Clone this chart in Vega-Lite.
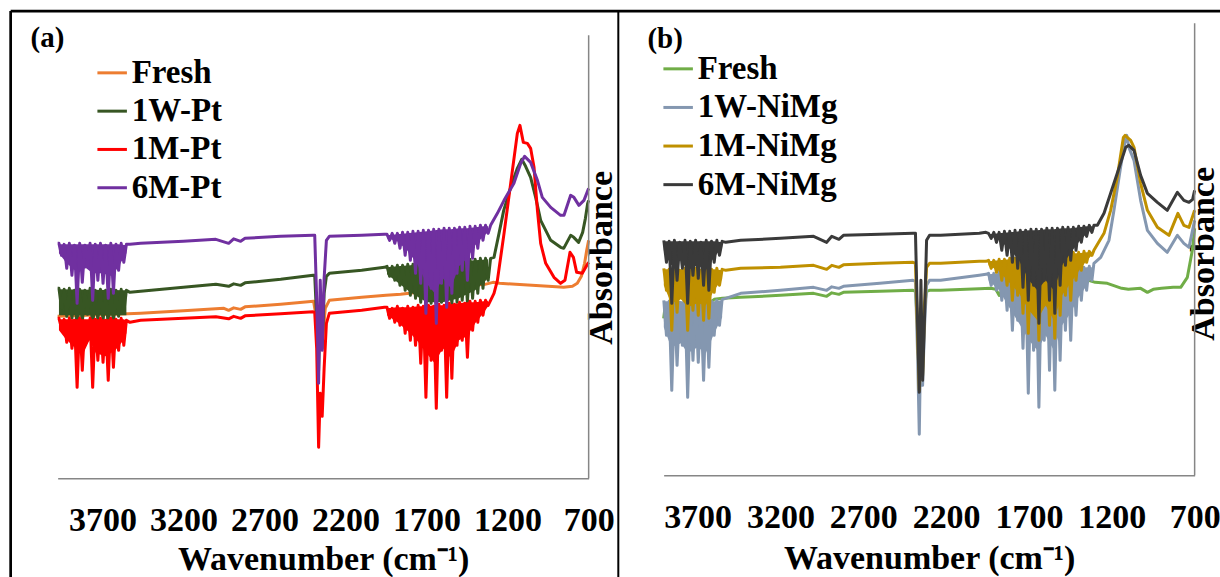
{
"$schema": "https://vega.github.io/schema/vega-lite/v6.json",
"background": "white",
"padding": {"left": 8.65, "top": 9.35, "right": -1.35, "bottom": -1.4},
"bounds": "flush",
"spacing": 75,
"resolve": {"scale": {"color": "independent", "x": "independent", "y": "independent"}, "legend": {"color": "independent"}},
"config": {
  "view": {"stroke": null},
  "axis": {"labelFont": "Liberation Serif", "labelFontSize": 34, "labelFontWeight": "bold", "labelColor": "#000000", "titleFont": "Liberation Serif", "titleFontSize": 34, "titleFontWeight": "bold", "titleColor": "#000000"},
  "legend": {"labelFont": "Liberation Serif", "labelFontSize": 33, "labelFontWeight": "bold", "labelColor": "#000000", "labelLimit": 400, "symbolType": "stroke", "symbolStrokeWidth": 3, "padding": 0}
},
"datasets": {
"aFresh": [{"x":3976,"y":1.62},{"x":3700,"y":1.635},{"x":3464,"y":1.65},{"x":3200,"y":1.675},{"x":2950,"y":1.7},{"x":2921,"y":1.68},{"x":2890,"y":1.705},{"x":2847,"y":1.69},{"x":2820,"y":1.715},{"x":2600,"y":1.74},{"x":2397,"y":1.77},{"x":2380,"y":1.6},{"x":2366,"y":1.3},{"x":2352,"y":1.55},{"x":2340,"y":1.4},{"x":2325,"y":1.7},{"x":2300,"y":1.78},{"x":2100,"y":1.81},{"x":1950,"y":1.83},{"x":1860,"y":1.84},{"x":1700,"y":1.87},{"x":1550,"y":1.9},{"x":1409,"y":1.93},{"x":1340,"y":1.94},{"x":1290,"y":1.96},{"x":1250,"y":1.95},{"x":1150,"y":1.94},{"x":1000,"y":1.925},{"x":900,"y":1.915},{"x":854,"y":1.91},{"x":800,"y":1.92},{"x":770,"y":1.95},{"x":745,"y":2.02},{"x":725,"y":2.15},{"x":712,"y":2.28},{"x":700,"y":2.38}],
"aA1W": [{"r":1,"x":3968,"y":1.89,"y2":1.63},{"r":1,"x":3552,"y":1.88,"y2":1.63},{"r":2,"x":1944,"y":2.11,"y2":2.04},{"r":2,"x":1880,"y":2.12,"y2":1.96},{"r":2,"x":1800,"y":2.13,"y2":1.86},{"r":2,"x":1700,"y":2.15,"y2":1.76},{"r":2,"x":1600,"y":2.16,"y2":1.76},{"r":2,"x":1500,"y":2.17,"y2":1.8},{"r":2,"x":1400,"y":2.18,"y2":1.88},{"r":2,"x":1320,"y":2.19,"y2":2.0}],
"a1W": [{"x":3976,"y":1.9},{"x":3968,"y":1.9},{"x":3952,"y":1.7},{"x":3936,"y":1.89},{"x":3920,"y":1.62},{"x":3904,"y":1.9},{"x":3888,"y":1.6},{"x":3872,"y":1.88},{"x":3856,"y":1.5},{"x":3840,"y":1.89},{"x":3824,"y":1.56},{"x":3808,"y":1.88},{"x":3792,"y":1.64},{"x":3776,"y":1.9},{"x":3760,"y":1.5},{"x":3744,"y":1.88},{"x":3728,"y":1.58},{"x":3712,"y":1.89},{"x":3696,"y":1.57},{"x":3680,"y":1.88},{"x":3664,"y":1.52},{"x":3648,"y":1.89},{"x":3632,"y":1.55},{"x":3616,"y":1.88},{"x":3600,"y":1.62},{"x":3584,"y":1.89},{"x":3568,"y":1.66},{"x":3552,"y":1.88},{"x":3530,"y":1.86},{"x":3464,"y":1.87},{"x":3200,"y":1.91},{"x":3000,"y":1.94},{"x":2921,"y":1.92},{"x":2890,"y":1.945},{"x":2847,"y":1.93},{"x":2820,"y":1.955},{"x":2600,"y":1.99},{"x":2400,"y":2.03},{"x":2390,"y":2.03},{"x":2378,"y":1.6},{"x":2366,"y":1.08},{"x":2356,"y":1.7},{"x":2344,"y":1.3},{"x":2332,"y":1.85},{"x":2318,"y":2.02},{"x":2300,"y":2.05},{"x":2100,"y":2.08},{"x":1960,"y":2.11},{"x":1944,"y":2.12},{"x":1928,"y":2.02},{"x":1912,"y":2.12},{"x":1896,"y":1.98},{"x":1880,"y":2.13},{"x":1864,"y":1.93},{"x":1848,"y":2.13},{"x":1832,"y":1.88},{"x":1816,"y":2.14},{"x":1800,"y":1.83},{"x":1784,"y":2.14},{"x":1768,"y":1.8},{"x":1752,"y":2.15},{"x":1736,"y":1.76},{"x":1720,"y":2.15},{"x":1704,"y":1.72},{"x":1688,"y":2.16},{"x":1672,"y":1.75},{"x":1656,"y":2.16},{"x":1640,"y":1.72},{"x":1624,"y":2.17},{"x":1608,"y":1.76},{"x":1592,"y":2.17},{"x":1576,"y":1.72},{"x":1560,"y":2.17},{"x":1544,"y":1.74},{"x":1528,"y":2.18},{"x":1512,"y":1.76},{"x":1496,"y":2.18},{"x":1480,"y":1.78},{"x":1464,"y":2.19},{"x":1448,"y":1.76},{"x":1432,"y":2.19},{"x":1416,"y":1.8},{"x":1400,"y":2.19},{"x":1384,"y":1.85},{"x":1368,"y":2.2},{"x":1352,"y":1.9},{"x":1336,"y":2.2},{"x":1320,"y":1.98},{"x":1305,"y":2.2},{"x":1284,"y":2.21},{"x":1253,"y":2.45},{"x":1224,"y":2.68},{"x":1181,"y":2.91},{"x":1140,"y":3.1},{"x":1113,"y":3.19},{"x":1089,"y":3.12},{"x":1058,"y":3.01},{"x":1027,"y":2.81},{"x":996,"y":2.58},{"x":934,"y":2.38},{"x":873,"y":2.31},{"x":854,"y":2.3},{"x":811,"y":2.43},{"x":792,"y":2.41},{"x":762,"y":2.36},{"x":737,"y":2.46},{"x":720,"y":2.6},{"x":706,"y":2.75},{"x":700,"y":2.78}],
"aA1M": [{"r":1,"x":3968,"y":1.59,"y2":1.48},{"r":1,"x":3930,"y":1.59,"y2":1.4},{"r":1,"x":3880,"y":1.59,"y2":1.32},{"r":1,"x":3820,"y":1.59,"y2":1.24},{"r":1,"x":3780,"y":1.59,"y2":1.38},{"r":1,"x":3740,"y":1.59,"y2":1.25},{"r":1,"x":3680,"y":1.59,"y2":1.22},{"r":1,"x":3620,"y":1.59,"y2":1.28},{"r":1,"x":3570,"y":1.59,"y2":1.38},{"r":1,"x":3552,"y":1.58,"y2":1.45},{"r":2,"x":1944,"y":1.7,"y2":1.63},{"r":2,"x":1880,"y":1.71,"y2":1.56},{"r":2,"x":1800,"y":1.71,"y2":1.45},{"r":2,"x":1750,"y":1.72,"y2":1.36},{"r":2,"x":1700,"y":1.72,"y2":1.25},{"r":2,"x":1650,"y":1.73,"y2":1.15},{"r":2,"x":1600,"y":1.73,"y2":1.3},{"r":2,"x":1550,"y":1.74,"y2":1.2},{"r":2,"x":1500,"y":1.75,"y2":1.38},{"r":2,"x":1450,"y":1.76,"y2":1.42},{"r":2,"x":1400,"y":1.76,"y2":1.55},{"r":2,"x":1350,"y":1.77,"y2":1.65},{"r":2,"x":1320,"y":1.77,"y2":1.72}],
"a1M": [{"x":3976,"y":1.6},{"x":3968,"y":1.6},{"x":3952,"y":1.5},{"x":3936,"y":1.59},{"x":3920,"y":1.36},{"x":3904,"y":1.6},{"x":3888,"y":1.3},{"x":3872,"y":1.58},{"x":3856,"y":0.91},{"x":3840,"y":1.6},{"x":3824,"y":1.08},{"x":3808,"y":1.57},{"x":3792,"y":1.38},{"x":3776,"y":1.6},{"x":3760,"y":0.91},{"x":3744,"y":1.59},{"x":3728,"y":1.18},{"x":3712,"y":1.6},{"x":3696,"y":1.16},{"x":3680,"y":1.58},{"x":3664,"y":0.98},{"x":3648,"y":1.6},{"x":3632,"y":1.11},{"x":3616,"y":1.59},{"x":3600,"y":1.28},{"x":3584,"y":1.6},{"x":3568,"y":1.33},{"x":3552,"y":1.58},{"x":3530,"y":1.56},{"x":3464,"y":1.58},{"x":3200,"y":1.6},{"x":3000,"y":1.615},{"x":2921,"y":1.595},{"x":2890,"y":1.62},{"x":2847,"y":1.6},{"x":2820,"y":1.625},{"x":2600,"y":1.645},{"x":2400,"y":1.665},{"x":2390,"y":1.66},{"x":2378,"y":1.3},{"x":2366,"y":0.31},{"x":2356,"y":0.85},{"x":2344,"y":0.62},{"x":2332,"y":1.1},{"x":2318,"y":1.55},{"x":2300,"y":1.65},{"x":2100,"y":1.68},{"x":1960,"y":1.71},{"x":1944,"y":1.71},{"x":1928,"y":1.6},{"x":1912,"y":1.7},{"x":1896,"y":1.56},{"x":1880,"y":1.72},{"x":1864,"y":1.53},{"x":1848,"y":1.7},{"x":1832,"y":1.45},{"x":1816,"y":1.72},{"x":1800,"y":1.38},{"x":1784,"y":1.71},{"x":1768,"y":1.33},{"x":1752,"y":1.73},{"x":1736,"y":1.15},{"x":1720,"y":1.72},{"x":1704,"y":0.81},{"x":1688,"y":1.73},{"x":1672,"y":1.18},{"x":1656,"y":1.72},{"x":1640,"y":0.7},{"x":1624,"y":1.74},{"x":1608,"y":1.28},{"x":1592,"y":1.73},{"x":1576,"y":0.81},{"x":1560,"y":1.75},{"x":1544,"y":1.0},{"x":1528,"y":1.74},{"x":1512,"y":1.33},{"x":1496,"y":1.76},{"x":1480,"y":1.38},{"x":1464,"y":1.75},{"x":1448,"y":1.21},{"x":1432,"y":1.77},{"x":1416,"y":1.48},{"x":1400,"y":1.77},{"x":1384,"y":1.56},{"x":1368,"y":1.78},{"x":1352,"y":1.63},{"x":1336,"y":1.78},{"x":1320,"y":1.73},{"x":1305,"y":1.78},{"x":1284,"y":1.85},{"x":1263,"y":1.98},{"x":1222,"y":2.45},{"x":1181,"y":2.95},{"x":1140,"y":3.45},{"x":1124,"y":3.53},{"x":1103,"y":3.36},{"x":1078,"y":3.35},{"x":1058,"y":3.3},{"x":1037,"y":3.11},{"x":1016,"y":2.68},{"x":996,"y":2.35},{"x":965,"y":2.15},{"x":914,"y":2.01},{"x":873,"y":1.95},{"x":846,"y":1.98},{"x":815,"y":2.26},{"x":794,"y":2.21},{"x":774,"y":2.06},{"x":739,"y":2.05},{"x":704,"y":2.15},{"x":700,"y":2.16}],
"aA6M": [{"r":1,"x":3968,"y":2.34,"y2":2.25},{"r":1,"x":3920,"y":2.34,"y2":2.15},{"r":1,"x":3870,"y":2.34,"y2":2.08},{"r":1,"x":3800,"y":2.34,"y2":2.1},{"r":1,"x":3760,"y":2.34,"y2":2.05},{"r":1,"x":3700,"y":2.34,"y2":2.05},{"r":1,"x":3640,"y":2.34,"y2":2.02},{"r":1,"x":3600,"y":2.34,"y2":2.12},{"r":1,"x":3552,"y":2.33,"y2":2.25},{"r":2,"x":1944,"y":2.43,"y2":2.4},{"r":2,"x":1880,"y":2.44,"y2":2.37},{"r":2,"x":1820,"y":2.45,"y2":2.28},{"r":2,"x":1760,"y":2.46,"y2":2.15},{"r":2,"x":1700,"y":2.47,"y2":1.95},{"r":2,"x":1650,"y":2.48,"y2":1.85},{"r":2,"x":1600,"y":2.49,"y2":2.0},{"r":2,"x":1550,"y":2.49,"y2":1.9},{"r":2,"x":1500,"y":2.5,"y2":2.12},{"r":2,"x":1450,"y":2.5,"y2":2.2},{"r":2,"x":1400,"y":2.51,"y2":2.33},{"r":2,"x":1350,"y":2.52,"y2":2.42},{"r":2,"x":1320,"y":2.52,"y2":2.46}],
"a6M": [{"x":3976,"y":2.35},{"x":3968,"y":2.35},{"x":3952,"y":2.23},{"x":3936,"y":2.34},{"x":3920,"y":2.1},{"x":3904,"y":2.35},{"x":3888,"y":2.03},{"x":3872,"y":2.33},{"x":3856,"y":1.75},{"x":3840,"y":2.35},{"x":3824,"y":1.96},{"x":3808,"y":2.33},{"x":3792,"y":2.18},{"x":3776,"y":2.35},{"x":3760,"y":1.78},{"x":3744,"y":2.34},{"x":3728,"y":1.98},{"x":3712,"y":2.35},{"x":3696,"y":1.95},{"x":3680,"y":2.33},{"x":3664,"y":1.8},{"x":3648,"y":2.35},{"x":3632,"y":1.85},{"x":3616,"y":2.34},{"x":3600,"y":2.08},{"x":3584,"y":2.35},{"x":3568,"y":2.16},{"x":3552,"y":2.34},{"x":3530,"y":2.34},{"x":3464,"y":2.35},{"x":3200,"y":2.37},{"x":3000,"y":2.39},{"x":2921,"y":2.35},{"x":2890,"y":2.395},{"x":2847,"y":2.37},{"x":2820,"y":2.4},{"x":2600,"y":2.42},{"x":2400,"y":2.43},{"x":2390,"y":2.43},{"x":2378,"y":1.8},{"x":2366,"y":0.95},{"x":2356,"y":1.98},{"x":2344,"y":1.28},{"x":2332,"y":2.0},{"x":2318,"y":2.38},{"x":2300,"y":2.42},{"x":2100,"y":2.43},{"x":1960,"y":2.44},{"x":1944,"y":2.44},{"x":1928,"y":2.38},{"x":1912,"y":2.45},{"x":1896,"y":2.35},{"x":1880,"y":2.45},{"x":1864,"y":2.3},{"x":1848,"y":2.46},{"x":1832,"y":2.23},{"x":1816,"y":2.46},{"x":1800,"y":2.18},{"x":1784,"y":2.47},{"x":1768,"y":2.05},{"x":1752,"y":2.47},{"x":1736,"y":1.95},{"x":1720,"y":2.48},{"x":1704,"y":1.65},{"x":1688,"y":2.48},{"x":1672,"y":1.9},{"x":1656,"y":2.49},{"x":1640,"y":1.55},{"x":1624,"y":2.49},{"x":1608,"y":1.95},{"x":1592,"y":2.5},{"x":1576,"y":1.71},{"x":1560,"y":2.5},{"x":1544,"y":1.85},{"x":1528,"y":2.5},{"x":1512,"y":2.05},{"x":1496,"y":2.51},{"x":1480,"y":2.08},{"x":1464,"y":2.51},{"x":1448,"y":1.98},{"x":1432,"y":2.52},{"x":1416,"y":2.2},{"x":1400,"y":2.52},{"x":1384,"y":2.3},{"x":1368,"y":2.53},{"x":1352,"y":2.38},{"x":1336,"y":2.53},{"x":1320,"y":2.45},{"x":1305,"y":2.53},{"x":1263,"y":2.65},{"x":1222,"y":2.78},{"x":1161,"y":2.95},{"x":1119,"y":3.15},{"x":1095,"y":3.22},{"x":1058,"y":3.16},{"x":1016,"y":2.98},{"x":986,"y":2.81},{"x":934,"y":2.71},{"x":873,"y":2.63},{"x":852,"y":2.63},{"x":811,"y":2.83},{"x":791,"y":2.81},{"x":760,"y":2.73},{"x":729,"y":2.78},{"x":700,"y":2.9}],
"bFresh": [{"x":3905,"y":1.57},{"x":3895,"y":1.7},{"x":3880,"y":1.62},{"x":3860,"y":1.72},{"x":3840,"y":1.64},{"x":3800,"y":1.72},{"x":3760,"y":1.66},{"x":3700,"y":1.74},{"x":3650,"y":1.7},{"x":3600,"y":1.76},{"x":3550,"y":1.77},{"x":3440,"y":1.78},{"x":3200,"y":1.8},{"x":3000,"y":1.82},{"x":2921,"y":1.79},{"x":2890,"y":1.825},{"x":2847,"y":1.81},{"x":2820,"y":1.83},{"x":2600,"y":1.84},{"x":2400,"y":1.85},{"x":2385,"y":1.84},{"x":2372,"y":1.5},{"x":2362,"y":1.2},{"x":2352,"y":1.6},{"x":2342,"y":1.3},{"x":2330,"y":1.7},{"x":2318,"y":1.84},{"x":2300,"y":1.85},{"x":2233,"y":1.85},{"x":2000,"y":1.865},{"x":1931,"y":1.87},{"x":1900,"y":1.86},{"x":1880,"y":1.8},{"x":1860,"y":1.86},{"x":1840,"y":1.78},{"x":1820,"y":1.85},{"x":1800,"y":1.75},{"x":1780,"y":1.84},{"x":1740,"y":1.72},{"x":1700,"y":1.68},{"x":1650,"y":1.65},{"x":1600,"y":1.78},{"x":1550,"y":1.7},{"x":1500,"y":1.8},{"x":1450,"y":1.85},{"x":1410,"y":1.9},{"x":1390,"y":1.97},{"x":1370,"y":1.97},{"x":1340,"y":1.95},{"x":1300,"y":1.93},{"x":1227,"y":1.92},{"x":1140,"y":1.87},{"x":1100,"y":1.86},{"x":1026,"y":1.87},{"x":985,"y":1.83},{"x":950,"y":1.86},{"x":900,"y":1.87},{"x":830,"y":1.88},{"x":784,"y":1.88},{"x":744,"y":1.98},{"x":714,"y":2.25},{"x":700,"y":2.47}],
"bA1W": [{"r":1,"x":3904,"y":1.74,"y2":1.48},{"r":1,"x":3860,"y":1.74,"y2":1.28},{"r":1,"x":3800,"y":1.74,"y2":1.32},{"r":1,"x":3760,"y":1.74,"y2":1.22},{"r":1,"x":3700,"y":1.74,"y2":1.28},{"r":1,"x":3650,"y":1.74,"y2":1.22},{"r":1,"x":3600,"y":1.74,"y2":1.42},{"r":1,"x":3552,"y":1.75,"y2":1.58},{"r":2,"x":1944,"y":2.01,"y2":1.95},{"r":2,"x":1880,"y":2.02,"y2":1.85},{"r":2,"x":1820,"y":2.03,"y2":1.68},{"r":2,"x":1760,"y":2.03,"y2":1.52},{"r":2,"x":1700,"y":2.04,"y2":1.35},{"r":2,"x":1650,"y":2.04,"y2":1.25},{"r":2,"x":1600,"y":2.05,"y2":1.4},{"r":2,"x":1550,"y":2.05,"y2":1.25},{"r":2,"x":1500,"y":2.06,"y2":1.5},{"r":2,"x":1450,"y":2.06,"y2":1.62},{"r":2,"x":1400,"y":2.07,"y2":1.78},{"r":2,"x":1350,"y":2.08,"y2":1.9},{"r":2,"x":1320,"y":2.08,"y2":1.98}],
"b1W": [{"x":3904,"y":1.75},{"x":3888,"y":1.4},{"x":3872,"y":1.74},{"x":3856,"y":0.85},{"x":3840,"y":1.75},{"x":3824,"y":1.1},{"x":3808,"y":1.73},{"x":3792,"y":1.3},{"x":3776,"y":1.75},{"x":3760,"y":0.78},{"x":3744,"y":1.74},{"x":3728,"y":1.15},{"x":3712,"y":1.75},{"x":3696,"y":1.13},{"x":3680,"y":1.73},{"x":3664,"y":0.95},{"x":3648,"y":1.75},{"x":3632,"y":1.08},{"x":3616,"y":1.74},{"x":3600,"y":1.4},{"x":3584,"y":1.75},{"x":3568,"y":1.5},{"x":3552,"y":1.76},{"x":3530,"y":1.77},{"x":3440,"y":1.82},{"x":3200,"y":1.85},{"x":3000,"y":1.88},{"x":2921,"y":1.85},{"x":2890,"y":1.885},{"x":2847,"y":1.87},{"x":2820,"y":1.89},{"x":2600,"y":1.92},{"x":2400,"y":1.95},{"x":2385,"y":1.94},{"x":2372,"y":1.2},{"x":2362,"y":0.41},{"x":2352,"y":1.5},{"x":2342,"y":0.9},{"x":2330,"y":1.5},{"x":2318,"y":1.9},{"x":2300,"y":1.95},{"x":2233,"y":1.95},{"x":2000,"y":2.0},{"x":1960,"y":2.01},{"x":1944,"y":2.02},{"x":1928,"y":1.9},{"x":1912,"y":2.02},{"x":1896,"y":1.85},{"x":1880,"y":2.03},{"x":1864,"y":1.75},{"x":1848,"y":2.03},{"x":1832,"y":1.65},{"x":1816,"y":2.04},{"x":1800,"y":1.45},{"x":1784,"y":2.04},{"x":1768,"y":1.55},{"x":1752,"y":2.04},{"x":1736,"y":1.27},{"x":1720,"y":2.05},{"x":1704,"y":0.82},{"x":1688,"y":2.05},{"x":1672,"y":1.25},{"x":1656,"y":2.05},{"x":1640,"y":0.68},{"x":1624,"y":2.06},{"x":1608,"y":1.35},{"x":1592,"y":2.06},{"x":1576,"y":1.05},{"x":1560,"y":2.06},{"x":1544,"y":0.85},{"x":1528,"y":2.07},{"x":1512,"y":1.15},{"x":1496,"y":2.07},{"x":1480,"y":1.45},{"x":1464,"y":2.07},{"x":1448,"y":1.35},{"x":1432,"y":2.08},{"x":1416,"y":1.6},{"x":1400,"y":2.08},{"x":1384,"y":1.75},{"x":1368,"y":2.08},{"x":1352,"y":1.85},{"x":1336,"y":2.09},{"x":1320,"y":1.95},{"x":1308,"y":2.12},{"x":1267,"y":2.18},{"x":1217,"y":2.35},{"x":1187,"y":2.65},{"x":1147,"y":3.08},{"x":1116,"y":3.38},{"x":1110,"y":3.4},{"x":1097,"y":3.28},{"x":1066,"y":3.15},{"x":1026,"y":2.75},{"x":985,"y":2.45},{"x":925,"y":2.32},{"x":865,"y":2.23},{"x":804,"y":2.4},{"x":765,"y":2.32},{"x":734,"y":2.28},{"x":700,"y":2.55}],
"bA1M": [{"r":1,"x":3904,"y":2.06,"y2":1.9},{"r":1,"x":3860,"y":2.06,"y2":1.72},{"r":1,"x":3800,"y":2.06,"y2":1.76},{"r":1,"x":3760,"y":2.06,"y2":1.68},{"r":1,"x":3700,"y":2.06,"y2":1.72},{"r":1,"x":3650,"y":2.06,"y2":1.7},{"r":1,"x":3600,"y":2.06,"y2":1.85},{"r":1,"x":3552,"y":2.05,"y2":1.96},{"r":2,"x":1944,"y":2.14,"y2":2.1},{"r":2,"x":1880,"y":2.15,"y2":2.04},{"r":2,"x":1820,"y":2.16,"y2":1.93},{"r":2,"x":1760,"y":2.17,"y2":1.82},{"r":2,"x":1700,"y":2.18,"y2":1.65},{"r":2,"x":1650,"y":2.18,"y2":1.55},{"r":2,"x":1600,"y":2.19,"y2":1.7},{"r":2,"x":1550,"y":2.2,"y2":1.55},{"r":2,"x":1500,"y":2.21,"y2":1.8},{"r":2,"x":1450,"y":2.22,"y2":1.92},{"r":2,"x":1400,"y":2.22,"y2":2.04},{"r":2,"x":1350,"y":2.23,"y2":2.15},{"r":2,"x":1320,"y":2.23,"y2":2.2}],
"b1M": [{"x":3904,"y":2.07},{"x":3888,"y":1.85},{"x":3872,"y":2.06},{"x":3856,"y":1.45},{"x":3840,"y":2.07},{"x":3824,"y":1.63},{"x":3808,"y":2.05},{"x":3792,"y":1.77},{"x":3776,"y":2.07},{"x":3760,"y":1.45},{"x":3744,"y":2.06},{"x":3728,"y":1.65},{"x":3712,"y":2.07},{"x":3696,"y":1.6},{"x":3680,"y":2.05},{"x":3664,"y":1.55},{"x":3648,"y":2.07},{"x":3632,"y":1.57},{"x":3616,"y":2.06},{"x":3600,"y":1.83},{"x":3584,"y":2.07},{"x":3568,"y":1.9},{"x":3552,"y":2.06},{"x":3530,"y":2.05},{"x":3440,"y":2.07},{"x":3200,"y":2.08},{"x":3000,"y":2.1},{"x":2921,"y":2.06},{"x":2890,"y":2.1},{"x":2847,"y":2.08},{"x":2820,"y":2.105},{"x":2600,"y":2.12},{"x":2400,"y":2.13},{"x":2385,"y":2.12},{"x":2372,"y":1.4},{"x":2362,"y":0.85},{"x":2352,"y":1.2},{"x":2342,"y":1.0},{"x":2330,"y":1.7},{"x":2318,"y":2.08},{"x":2300,"y":2.12},{"x":2233,"y":2.12},{"x":2000,"y":2.14},{"x":1960,"y":2.14},{"x":1944,"y":2.15},{"x":1928,"y":2.07},{"x":1912,"y":2.15},{"x":1896,"y":2.03},{"x":1880,"y":2.16},{"x":1864,"y":1.95},{"x":1848,"y":2.16},{"x":1832,"y":1.9},{"x":1816,"y":2.17},{"x":1800,"y":1.75},{"x":1784,"y":2.17},{"x":1768,"y":1.8},{"x":1752,"y":2.18},{"x":1736,"y":1.62},{"x":1720,"y":2.18},{"x":1704,"y":1.42},{"x":1688,"y":2.19},{"x":1672,"y":1.65},{"x":1656,"y":2.19},{"x":1640,"y":1.35},{"x":1624,"y":2.2},{"x":1608,"y":1.7},{"x":1592,"y":2.2},{"x":1576,"y":1.5},{"x":1560,"y":2.21},{"x":1544,"y":1.37},{"x":1528,"y":2.21},{"x":1512,"y":1.6},{"x":1496,"y":2.22},{"x":1480,"y":1.8},{"x":1464,"y":2.22},{"x":1448,"y":1.75},{"x":1432,"y":2.23},{"x":1416,"y":1.95},{"x":1400,"y":2.23},{"x":1384,"y":2.05},{"x":1368,"y":2.24},{"x":1352,"y":2.13},{"x":1336,"y":2.24},{"x":1320,"y":2.2},{"x":1308,"y":2.25},{"x":1247,"y":2.42},{"x":1207,"y":2.65},{"x":1167,"y":2.98},{"x":1130,"y":3.38},{"x":1120,"y":3.4},{"x":1086,"y":3.35},{"x":1066,"y":3.28},{"x":1026,"y":2.92},{"x":985,"y":2.65},{"x":925,"y":2.48},{"x":855,"y":2.4},{"x":801,"y":2.62},{"x":765,"y":2.5},{"x":734,"y":2.48},{"x":700,"y":2.65}],
"bA6M": [{"r":1,"x":3904,"y":2.34,"y2":2.25},{"r":1,"x":3860,"y":2.34,"y2":2.1},{"r":1,"x":3800,"y":2.34,"y2":2.15},{"r":1,"x":3760,"y":2.34,"y2":2.05},{"r":1,"x":3700,"y":2.34,"y2":2.1},{"r":1,"x":3650,"y":2.34,"y2":2.05},{"r":1,"x":3600,"y":2.34,"y2":2.18},{"r":1,"x":3552,"y":2.33,"y2":2.28},{"r":2,"x":1944,"y":2.41,"y2":2.4},{"r":2,"x":1880,"y":2.42,"y2":2.35},{"r":2,"x":1820,"y":2.43,"y2":2.27},{"r":2,"x":1760,"y":2.44,"y2":2.15},{"r":2,"x":1700,"y":2.45,"y2":1.95},{"r":2,"x":1650,"y":2.45,"y2":1.85},{"r":2,"x":1600,"y":2.46,"y2":1.95},{"r":2,"x":1550,"y":2.46,"y2":1.85},{"r":2,"x":1500,"y":2.47,"y2":2.1},{"r":2,"x":1450,"y":2.47,"y2":2.22},{"r":2,"x":1400,"y":2.48,"y2":2.33},{"r":2,"x":1350,"y":2.49,"y2":2.42},{"r":2,"x":1320,"y":2.49,"y2":2.46}],
"b6M": [{"x":3904,"y":2.35},{"x":3888,"y":2.13},{"x":3872,"y":2.34},{"x":3856,"y":1.72},{"x":3840,"y":2.35},{"x":3824,"y":1.95},{"x":3808,"y":2.33},{"x":3792,"y":2.07},{"x":3776,"y":2.35},{"x":3760,"y":1.72},{"x":3744,"y":2.34},{"x":3728,"y":2.0},{"x":3712,"y":2.35},{"x":3696,"y":1.97},{"x":3680,"y":2.33},{"x":3664,"y":1.9},{"x":3648,"y":2.35},{"x":3632,"y":1.85},{"x":3616,"y":2.34},{"x":3600,"y":2.13},{"x":3584,"y":2.35},{"x":3568,"y":2.2},{"x":3552,"y":2.34},{"x":3530,"y":2.33},{"x":3440,"y":2.35},{"x":3200,"y":2.37},{"x":3000,"y":2.39},{"x":2921,"y":2.33},{"x":2890,"y":2.39},{"x":2847,"y":2.36},{"x":2820,"y":2.4},{"x":2600,"y":2.41},{"x":2400,"y":2.42},{"x":2385,"y":2.42},{"x":2372,"y":1.5},{"x":2362,"y":0.83},{"x":2352,"y":1.95},{"x":2342,"y":0.95},{"x":2330,"y":1.6},{"x":2318,"y":2.35},{"x":2300,"y":2.4},{"x":2233,"y":2.4},{"x":2000,"y":2.42},{"x":1960,"y":2.43},{"x":1944,"y":2.42},{"x":1928,"y":2.37},{"x":1912,"y":2.43},{"x":1896,"y":2.33},{"x":1880,"y":2.43},{"x":1864,"y":2.25},{"x":1848,"y":2.44},{"x":1832,"y":2.2},{"x":1816,"y":2.44},{"x":1800,"y":2.13},{"x":1784,"y":2.45},{"x":1768,"y":2.07},{"x":1752,"y":2.45},{"x":1736,"y":1.88},{"x":1720,"y":2.45},{"x":1704,"y":1.75},{"x":1688,"y":2.46},{"x":1672,"y":1.9},{"x":1656,"y":2.46},{"x":1640,"y":1.52},{"x":1624,"y":2.46},{"x":1608,"y":1.95},{"x":1592,"y":2.47},{"x":1576,"y":1.75},{"x":1560,"y":2.47},{"x":1544,"y":1.62},{"x":1528,"y":2.47},{"x":1512,"y":1.9},{"x":1496,"y":2.48},{"x":1480,"y":2.1},{"x":1464,"y":2.48},{"x":1448,"y":2.15},{"x":1432,"y":2.48},{"x":1416,"y":2.25},{"x":1400,"y":2.49},{"x":1384,"y":2.33},{"x":1368,"y":2.49},{"x":1352,"y":2.39},{"x":1336,"y":2.5},{"x":1320,"y":2.43},{"x":1308,"y":2.5},{"x":1287,"y":2.5},{"x":1247,"y":2.62},{"x":1207,"y":2.82},{"x":1167,"y":3.02},{"x":1116,"y":3.28},{"x":1097,"y":3.3},{"x":1066,"y":3.25},{"x":1026,"y":3.0},{"x":985,"y":2.82},{"x":925,"y":2.73},{"x":865,"y":2.65},{"x":804,"y":2.83},{"x":765,"y":2.75},{"x":734,"y":2.73},{"x":712,"y":2.76},{"x":700,"y":2.85}]
},
"hconcat": [
{
  "width": 531, "height": 455,
  "encoding": {
    "x": {"field": "x", "type": "quantitative", "scale": {"domain": [700, 3976], "reverse": true, "nice": false, "zero": false},
      "axis": {"title": "Wavenumber (cm⁻¹)", "values": [3700, 3200, 2700, 2200, 1700, 1200, 700], "format": "d", "ticks": false, "tickSize": 0, "grid": false, "labelPadding": 52, "labelBaseline": "alphabetic", "labelFlush": false, "labelOverlap": false, "domainColor": "#868686", "domainWidth": 1.5, "titleBaseline": "alphabetic", "titleY": 91.5}},
    "y": {"field": "y", "type": "quantitative", "scale": {"domain": [0, 4.55], "nice": false, "zero": false},
      "axis": {"title": "Absorbance", "orient": "right", "labels": false, "ticks": false, "domain": false, "grid": false, "titleAngle": 270, "titleBaseline": "alphabetic", "titleAlign": "center", "titleX": 23, "titleY": 234}}
  },
  "layer": [
    {"data": {"name": "aFresh"}, "mark": {"type": "line", "strokeWidth": 3, "strokeJoin": "round"},
     "encoding": {"color": {"datum": "Fresh", "scale": {"domain": ["Fresh", "1W-Pt", "1M-Pt", "6M-Pt"], "range": ["#ED7D31", "#375623", "#FF0000", "#7030A0"]},
       "legend": {"orient": "none", "legendX": 38, "legendY": 33, "title": null, "symbolType": "stroke", "symbolSize": 870, "labelOffset": 3, "rowPadding": 4.3}}}},
    {"data": {"name": "aA1W"}, "mark": {"type": "area", "color": "#375623", "opacity": 1}, "encoding": {"y2": {"field": "y2"}, "detail": {"field": "r", "type": "nominal"}}},
    {"data": {"name": "a1W"}, "mark": {"type": "line", "strokeWidth": 3, "strokeJoin": "round"}, "encoding": {"color": {"datum": "1W-Pt"}}},
    {"data": {"name": "aA1M"}, "mark": {"type": "area", "color": "#FF0000", "opacity": 1}, "encoding": {"y2": {"field": "y2"}, "detail": {"field": "r", "type": "nominal"}}},
    {"data": {"name": "a1M"}, "mark": {"type": "line", "strokeWidth": 3, "strokeJoin": "round"}, "encoding": {"color": {"datum": "1M-Pt"}}},
    {"data": {"name": "aA6M"}, "mark": {"type": "area", "color": "#7030A0", "opacity": 1}, "encoding": {"y2": {"field": "y2"}, "detail": {"field": "r", "type": "nominal"}}},
    {"data": {"name": "a6M"}, "mark": {"type": "line", "strokeWidth": 3, "strokeJoin": "round"}, "encoding": {"color": {"datum": "6M-Pt"}}},
    {"data": {"values": [{"x": 700, "y": 0, "y2": 4.43}]}, "mark": {"type": "rule", "color": "#868686", "strokeWidth": 1.5}, "encoding": {"y2": {"field": "y2"}}},
    {"data": {"values": [{"x": 4266, "x2": -3199, "y": 4.673, "y2": 4.673}, {"x": 4266, "x2": 4266, "y": 4.673, "y2": -0.99}]}, "mark": {"type": "rule", "color": "#000000", "strokeWidth": 2.7}, "encoding": {"x2": {"field": "x2"}, "y2": {"field": "y2"}}},
    {"data": {"values": [{"x": 517, "y": 4.673, "y2": -0.99}]}, "mark": {"type": "rule", "color": "#000000", "strokeWidth": 2}, "encoding": {"y2": {"field": "y2"}}},
    {"data": {"values": [{"x": 4143, "y": 4.314}]}, "mark": {"type": "text", "text": "(a)", "align": "left", "baseline": "alphabetic", "font": "Liberation Serif", "fontSize": 29, "fontWeight": "bold", "color": "#000000"}}
  ]
},
{
  "width": 531, "height": 452,
  "encoding": {
    "x": {"field": "x", "type": "quantitative", "scale": {"domain": [700, 3905], "reverse": true, "nice": false, "zero": false},
      "axis": {"title": "Wavenumber (cm⁻¹)", "values": [3700, 3200, 2700, 2200, 1700, 1200, 700], "format": "d", "ticks": false, "tickSize": 0, "grid": false, "labelPadding": 52, "labelBaseline": "alphabetic", "labelFlush": false, "labelOverlap": false, "domainColor": "#868686", "domainWidth": 1.5, "titleBaseline": "alphabetic", "titleY": 93}},
    "y": {"field": "y", "type": "quantitative", "scale": {"domain": [0, 4.52], "nice": false, "zero": false},
      "axis": {"title": "Absorbance", "orient": "right", "labels": false, "ticks": false, "domain": false, "grid": false, "titleAngle": 270, "titleBaseline": "alphabetic", "titleAlign": "center", "titleX": 19, "titleY": 230}}
  },
  "layer": [
    {"data": {"name": "bFresh"}, "mark": {"type": "line", "strokeWidth": 3, "strokeJoin": "round"},
     "encoding": {"color": {"datum": "Fresh", "scale": {"domain": ["Fresh", "1W-NiMg", "1M-NiMg", "6M-NiMg"], "range": ["#70AD47", "#8497B0", "#BF9000", "#3A3A3A"]},
       "legend": {"orient": "none", "legendX": -2, "legendY": 29, "title": null, "symbolType": "stroke", "symbolSize": 870, "labelOffset": 3, "rowPadding": 4.6}}}},
    {"data": {"name": "bA1W"}, "mark": {"type": "area", "color": "#8497B0", "opacity": 1}, "encoding": {"y2": {"field": "y2"}, "detail": {"field": "r", "type": "nominal"}}},
    {"data": {"name": "b1W"}, "mark": {"type": "line", "strokeWidth": 3, "strokeJoin": "round"}, "encoding": {"color": {"datum": "1W-NiMg"}}},
    {"data": {"name": "bA1M"}, "mark": {"type": "area", "color": "#BF9000", "opacity": 1}, "encoding": {"y2": {"field": "y2"}, "detail": {"field": "r", "type": "nominal"}}},
    {"data": {"name": "b1M"}, "mark": {"type": "line", "strokeWidth": 3, "strokeJoin": "round"}, "encoding": {"color": {"datum": "1M-NiMg"}}},
    {"data": {"name": "bA6M"}, "mark": {"type": "area", "color": "#3A3A3A", "opacity": 1}, "encoding": {"y2": {"field": "y2"}, "detail": {"field": "r", "type": "nominal"}}},
    {"data": {"name": "b6M"}, "mark": {"type": "line", "strokeWidth": 3, "strokeJoin": "round"}, "encoding": {"color": {"datum": "6M-NiMg"}}},
    {"data": {"values": [{"x": 700, "y": 0, "y2": 4.52}]}, "mark": {"type": "rule", "color": "#868686", "strokeWidth": 1.5}, "encoding": {"y2": {"field": "y2"}}},
    {"data": {"values": [{"x": 4003, "y": 4.276}]}, "mark": {"type": "text", "text": "(b)", "align": "left", "baseline": "alphabetic", "font": "Liberation Serif", "fontSize": 29, "fontWeight": "bold", "color": "#000000"}}
  ]
}
]
}
